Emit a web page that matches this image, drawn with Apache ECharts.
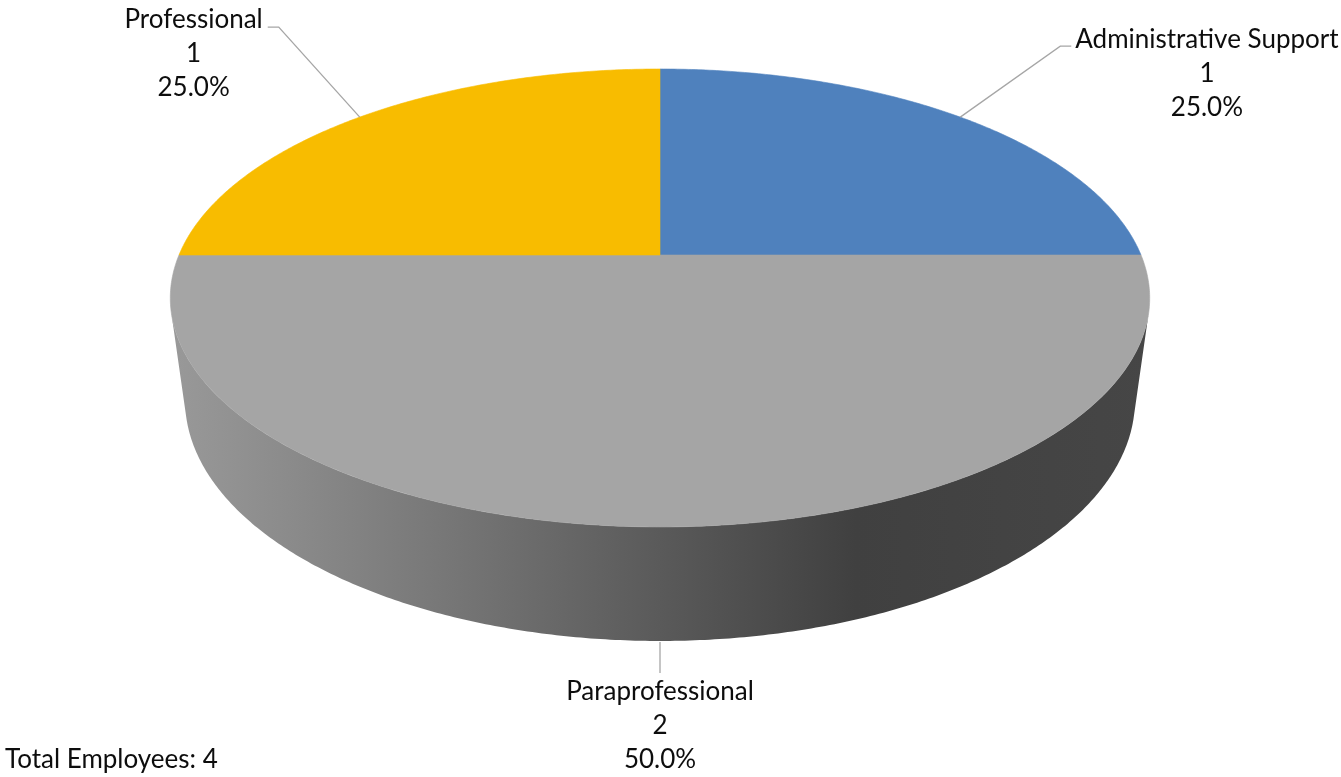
<!DOCTYPE html>
<html>
<head>
<meta charset="utf-8">
<script src="https://cdn.jsdelivr.net/npm/echarts@6/dist/echarts.min.js"></script>
<style>
  html, body { margin: 0; padding: 0; background: #ffffff; }
  #chart { width: 1341px; height: 777px; }
</style>
</head>
<body>
<div id="chart"></div>
<script>
// Employees by category
const categories = ['Administrative Support', 'Paraprofessional', 'Professional'];
const counts = [1, 2, 1];
const sliceColors = ['#4f81bd', '#a5a5a5', '#f8bc00'];
const totalPrefix = 'Total Employees: ';

// Perspective of the tilted disc: centre, half-width, depth scale, perspective factor,
// wall height and the shrink of the lower rim.
const view = { cx: 660, cy: 255, a: 481, b: 220.9, k: 0.1877, h: 104.2, m: 0.03 };
// Lighting across the side wall (position along the width, brightness factor).
const wallShade = [[0, 0.93], [0.12, 0.84], [0.28, 0.72], [0.5, 0.545], [0.7, 0.39], [1, 0.425]];
// Leader line layout per slice: elbow offset from the rim and horizontal tail.
const labelLayout = [
  { dx: 100, dy: -71, tail: 11 },
  { dx: 0, dy: 32, tail: 0 },
  { dx: -81, dy: -90, tail: -11 }
];
const FONT_FAMILY = 'Lato';
const FONT_SIZE = 26;
const LINE_H = 34;
const TEXT_COLOR = '#0d0d0d';
const LEADER_COLOR = '#a6a6a6';

const total = counts.reduce((s, v) => s + v, 0);
const TWO_PI = Math.PI * 2;

// theta: clockwise from the back of the disc; depth: 0 top rim, 1 bottom rim
function proj(theta, depth) {
  const X = Math.sin(theta), Z = -Math.cos(theta);
  const D = 1 - view.k * Z + view.m * depth;
  return [view.cx + view.a * X / D, view.cy + (view.b * Z + view.h * depth) / D];
}

// sign of the wall rule against the rim tangent; zero at the silhouette
function ruleCross(t) {
  const e = 1e-4;
  const p0 = proj(t - e, 0), p1 = proj(t + e, 0);
  const T = proj(t, 0), B = proj(t, 1);
  const tx = p1[0] - p0[0], ty = p1[1] - p0[1];
  return tx * (B[1] - T[1]) - ty * (B[0] - T[0]);
}
function findRoot(lo, hi) {
  let flo = ruleCross(lo);
  for (let i = 0; i < 60; i++) {
    const mid = (lo + hi) / 2, fm = ruleCross(mid);
    if ((fm > 0) === (flo > 0)) { lo = mid; flo = fm; } else { hi = mid; }
  }
  return (lo + hi) / 2;
}
const silRight = findRoot(0.001, Math.PI);
const silLeft = findRoot(Math.PI, TWO_PI - 0.001);

function arc(t0, t1, depth) {
  const n = Math.max(2, Math.ceil(Math.abs(t1 - t0) / (Math.PI / 360)));
  const pts = [];
  for (let i = 0; i <= n; i++) pts.push(proj(t0 + (t1 - t0) * i / n, depth));
  return pts;
}

function startOf(i) {
  let s = 0;
  for (let j = 0; j < i; j++) s += counts[j];
  return s;
}

function shade(hex, f) {
  const n = parseInt(hex.slice(1), 16);
  const c = [(n >> 16) & 255, (n >> 8) & 255, n & 255].map(v => Math.round(Math.min(255, v * f)));
  return 'rgb(' + c.join(',') + ')';
}

// horizontal extent of the top rim, used by the wall gradient
const rimPts = arc(0, TWO_PI, 0);
const rimMinX = Math.min(...rimPts.map(p => p[0]));
const rimMaxX = Math.max(...rimPts.map(p => p[0]));

const measureCtx = document.createElement('canvas').getContext('2d');
function blockWidth(lines) {
  measureCtx.font = FONT_SIZE + 'px ' + FONT_FAMILY;
  return Math.max(...lines.map(l => measureCtx.measureText(l).width));
}

function sliceRange(i, api) {
  const t0 = startOf(i) / total * TWO_PI;
  const t1 = t0 + api.value(0) / total * TWO_PI;
  return [t0, t1];
}

function renderWall(params, api) {
  const i = params.dataIndex;
  const [t0, t1] = sliceRange(i, api);
  const ws = Math.max(t0, silRight), we = Math.min(t1, silLeft);
  if (we <= ws) return null;
  const pts = arc(ws, we, 0).concat(arc(we, ws, 1));
  return {
    type: 'polygon',
    shape: { points: pts },
    style: {
      fill: {
        type: 'linear', x: rimMinX, y: 0, x2: rimMaxX, y2: 0, global: true,
        colorStops: wallShade.map(s => ({ offset: s[0], color: shade(sliceColors[i], s[1]) }))
      }
    },
    silent: true
  };
}

function renderTop(params, api) {
  const i = params.dataIndex;
  const [t0, t1] = sliceRange(i, api);
  const pts = [[view.cx, view.cy]].concat(arc(t0, t1, 0));
  return {
    type: 'polygon',
    shape: { points: pts },
    style: { fill: sliceColors[i], stroke: sliceColors[i], lineWidth: 0.6 },
    silent: true
  };
}

function renderLabel(params, api) {
  const i = params.dataIndex;
  const v = api.value(0);
  const [t0, t1] = sliceRange(i, api);
  const tm = (t0 + t1) / 2;
  const front = tm > silRight && tm < silLeft;
  const anchor = proj(tm, front ? 1 : 0);
  const lay = labelLayout[i];
  const elbow = [anchor[0] + lay.dx, anchor[1] + lay.dy];
  const end = [elbow[0] + lay.tail, elbow[1]];
  const start = front ? [anchor[0], anchor[1] + 1] : anchor;
  const lines = [categories[i], String(v), (v / total * 100).toFixed(1) + '%'];
  const w = blockWidth(lines);
  let tx, ty;
  if (lay.tail > 0) { tx = end[0] + 4 + w / 2; ty = end[1] - 6 - LINE_H / 2; }
  else if (lay.tail < 0) { tx = end[0] - 5 - w / 2; ty = end[1] - 7 - LINE_H / 2; }
  else { tx = end[0]; ty = end[1] + 19 - LINE_H / 2; }
  return {
    type: 'group',
    children: [
      {
        type: 'polyline',
        shape: { points: [start, elbow, end] },
        style: { stroke: LEADER_COLOR, lineWidth: 1.3, fill: null }
      },
      {
        type: 'text',
        style: {
          text: lines.join('\n'), x: tx, y: ty,
          fill: TEXT_COLOR, fontSize: FONT_SIZE, fontFamily: FONT_FAMILY,
          lineHeight: LINE_H, align: 'center', verticalAlign: 'top'
        }
      }
    ],
    silent: true
  };
}

const seriesData = counts.map((v, i) => ({ name: categories[i], value: [v] }));

const chart = echarts.init(document.getElementById('chart'), null, { renderer: 'canvas' });
chart.setOption({
  backgroundColor: '#ffffff',
  animation: false,
  graphic: [{
    type: 'text', left: 5, top: 760 - LINE_H / 2,
    style: {
      text: totalPrefix + total, fill: TEXT_COLOR,
      fontSize: FONT_SIZE, fontFamily: FONT_FAMILY, lineHeight: LINE_H
    }
  }],
  series: [
    { type: 'custom', coordinateSystem: 'none', z: 1, renderItem: renderWall, data: seriesData },
    { type: 'custom', coordinateSystem: 'none', z: 2, renderItem: renderTop, data: seriesData },
    { type: 'custom', coordinateSystem: 'none', z: 3, renderItem: renderLabel, data: seriesData }
  ]
});
</script>
</body>
</html>
